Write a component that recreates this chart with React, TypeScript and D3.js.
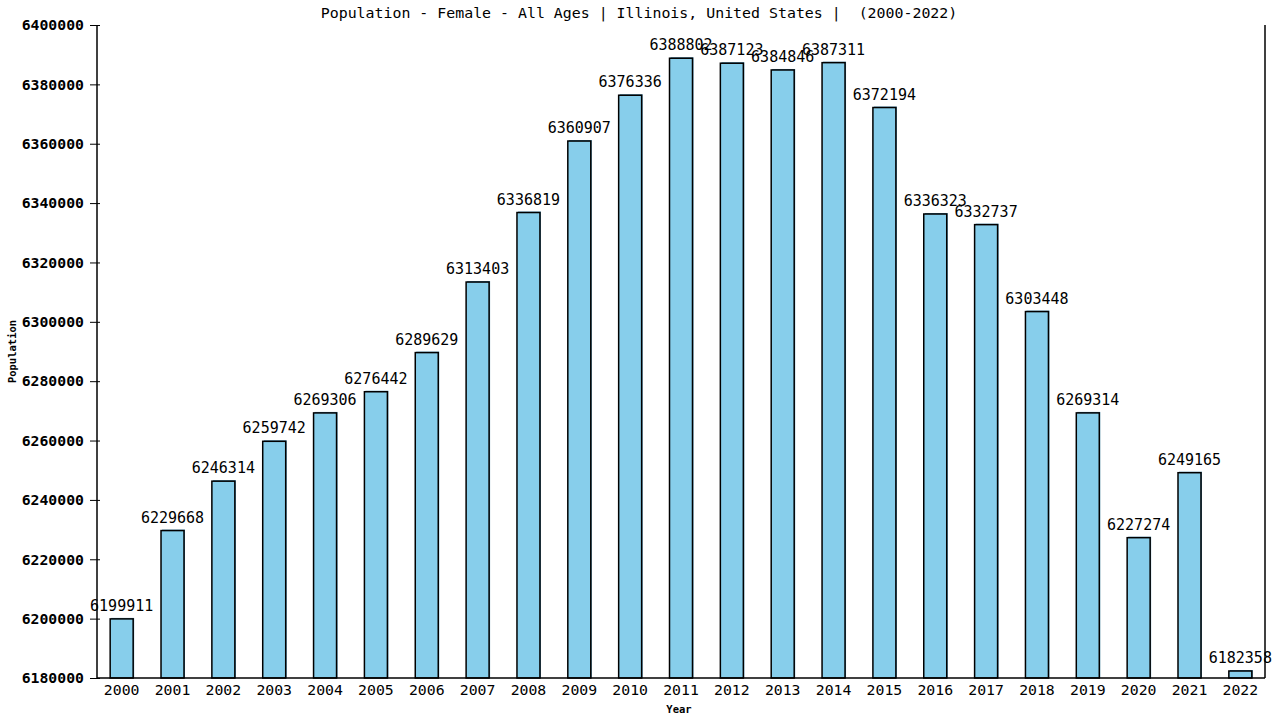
import { type FC, useEffect, useRef } from 'react';
import * as d3 from 'd3';

const years = [
  '2000', '2001', '2002', '2003', '2004', '2005', '2006', '2007', '2008', '2009', '2010', '2011',
  '2012', '2013', '2014', '2015', '2016', '2017', '2018', '2019', '2020', '2021', '2022',
];
const population = [
  6199911, 6229668, 6246314, 6259742, 6269306, 6276442, 6289629, 6313403, 6336819, 6360907,
  6376336, 6388802, 6387123, 6384846, 6387311, 6372194, 6336323, 6332737, 6303448, 6269314,
  6227274, 6249165, 6182358,
];
const yTicks = [6180000, 6200000, 6220000, 6240000, 6260000, 6280000, 6300000, 6320000, 6340000, 6360000, 6380000, 6400000];

const width = 1280;
const height = 720;
const padding = { top: 25, right: 15, bottom: 42, left: 97 };
const font = '"DejaVu Sans Mono", monospace';
const barColor = '#87ceeb';
const shadowColor = '#4f8fb0';

const App: FC = () => {
  const ref = useRef<SVGSVGElement>(null);

  useEffect(() => {
    const { current: dom } = ref;
    if (!dom) return;
    const svg = d3.select(dom);
    svg.selectAll('*').remove();

    const gw = width - padding.left - padding.right;
    const gh = height - padding.top - padding.bottom;
    const g = svg.append('g').attr('transform', `translate(${padding.left},${padding.top})`);

    const x = d3.scaleBand().domain(years).range([0, gw]).paddingInner(0.548).paddingOuter(0.259);
    const y = d3.scaleLinear().domain([6180000, 6400000]).range([gh, 0]);

    // bars: shadow then main rect
    const bars = g.selectAll('g.bar').data(population).join('g').attr('class', 'bar');
    bars
      .append('rect')
      .attr('x', (_, i) => x(years[i])! + 1)
      .attr('y', (d) => y(d) - 1)
      .attr('width', x.bandwidth())
      .attr('height', (d) => gh - y(d) + 1)
      .attr('fill', shadowColor);
    bars
      .append('rect')
      .attr('x', (_, i) => x(years[i])!)
      .attr('y', (d) => y(d))
      .attr('width', x.bandwidth())
      .attr('height', (d) => gh - y(d))
      .attr('fill', barColor)
      .attr('stroke', '#000')
      .attr('stroke-width', 1.5);
    // value labels (they overlap near the peak, as in the source chart)
    bars
      .append('text')
      .attr('x', (_, i) => x(years[i])! + x.bandwidth() / 2)
      .attr('y', (d) => y(d) - 8)
      .attr('text-anchor', 'middle')
      .attr('font-family', font)
      .attr('font-size', 15)
      .attr('fill', '#000')
      .text((d) => d);

    // y axis
    const yAxis = g.append('g').call(d3.axisLeft(y).tickValues(yTicks).tickSize(7).tickFormat((d) => String(d)));
    yAxis.selectAll('text').attr('font-family', font).attr('font-size', 14.8).attr('font-weight', 'bold').attr('fill', '#000').attr('x', -13);
    yAxis.selectAll('line').attr('stroke', '#000').attr('x2', -7).attr('x1', 3);
    yAxis.select('.domain').attr('stroke', '#000').attr('stroke-width', 1.5).attr('d', `M0,0V${gh}`);

    // x axis
    const xAxis = g.append('g').attr('transform', `translate(0,${gh})`).call(d3.axisBottom(x).tickSize(0).tickPadding(6));
    xAxis.selectAll('text').attr('font-family', font).attr('font-size', 14.8).attr('fill', '#000');
    xAxis.select('.domain').attr('stroke', '#000').attr('stroke-width', 1.5).attr('d', `M0,0H${gw}`);

    // right border
    g.append('line').attr('x1', gw).attr('x2', gw).attr('y1', 0).attr('y2', gh).attr('stroke', '#000').attr('stroke-width', 1.5);

    // title and axis names
    svg
      .append('text')
      .attr('x', 639)
      .attr('y', 18)
      .attr('text-anchor', 'middle')
      .attr('font-family', font)
      .attr('font-size', 14.9)
      .style('white-space', 'pre')
      .text('Population - Female - All Ages | Illinois, United States |  (2000-2022)');
    svg
      .append('text')
      .attr('x', padding.left + gw / 2 - 2)
      .attr('y', 713)
      .attr('text-anchor', 'middle')
      .attr('font-family', font)
      .attr('font-size', 10.5)
      .attr('font-weight', 'bold')
      .text('Year');
    svg
      .append('text')
      .attr('transform', `translate(16,${padding.top + gh / 2}) rotate(-90)`)
      .attr('text-anchor', 'middle')
      .attr('font-family', font)
      .attr('font-size', 10.5)
      .attr('font-weight', 'bold')
      .text('Population');
  }, []);

  return <svg ref={ref} width={width} height={height} style={{ display: 'block', position: 'absolute', left: 0, top: 0, background: '#fff' }} />;
};

export default App;
